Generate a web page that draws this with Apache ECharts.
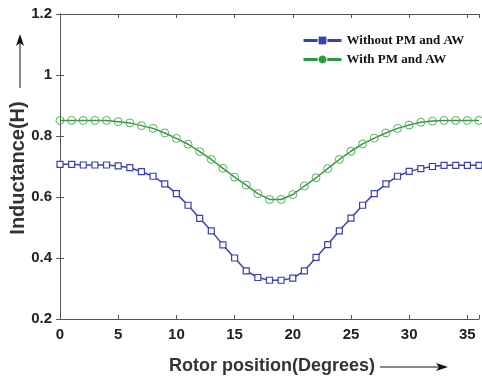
<!DOCTYPE html>
<html><head><meta charset="utf-8">
<script src="https://cdn.jsdelivr.net/npm/echarts@6/dist/echarts.min.js"></script>
<style>html,body{margin:0;padding:0;background:#fff}#c{width:482px;height:380px}</style>
</head><body><div id="c"></div>
<script>
const positions = [0,1,2,3,4,5,6,7,8,9,10,11,12,13,14,15,16,17,18,19,20,21,22,23,24,25,26,27,28,29,30,31,32,33,34,35,36];
const withoutPM = [0.707,0.707,0.705,0.705,0.705,0.702,0.696,0.683,0.668,0.643,0.611,0.573,0.530,0.489,0.443,0.400,0.358,0.336,0.327,0.327,0.334,0.358,0.402,0.444,0.489,0.531,0.573,0.611,0.643,0.668,0.684,0.693,0.700,0.704,0.704,0.704,0.704];
const withPM = [0.851,0.851,0.851,0.851,0.851,0.847,0.843,0.834,0.825,0.810,0.792,0.773,0.749,0.723,0.694,0.665,0.639,0.611,0.592,0.592,0.608,0.636,0.663,0.693,0.723,0.750,0.774,0.793,0.810,0.825,0.836,0.845,0.849,0.851,0.851,0.851,0.851];
const seriesNames = ['Without PM and AW','With PM and AW'];
const xTicks = [0,5,10,15,20,25,30,35];
const yTicks = [0.2,0.4,0.6,0.8,1,1.2];

const blue = '#3a40ae', green = '#2f9a3c';
const chart = echarts.init(document.getElementById('c'));
const axisCommon = {
  axisLine:{show:true,lineStyle:{color:'#555',width:1}},
  axisTick:{show:true,inside:true,length:4,lineStyle:{color:'#555'}},
  splitLine:{show:false}
};
chart.setOption({
  animation:false,
  grid:{left:60,top:14,width:424,height:305,containLabel:false},
  legend:{
    top:34,left:302,padding:0,orient:'vertical',itemGap:6,itemWidth:38,itemHeight:11,
    textStyle:{fontFamily:'Liberation Serif',fontWeight:'bold',fontSize:13,color:'#111'},
    data:[
      {name:seriesNames[0],itemStyle:{color:blue,borderColor:'#fff',borderWidth:1},lineStyle:{width:3,color:blue}},
      {name:seriesNames[1],itemStyle:{color:green,borderColor:'#fff',borderWidth:1},lineStyle:{width:3,color:green}}
    ]
  },
  xAxis:[
    Object.assign({type:'value',min:0,max:36,interval:5,position:'bottom',
      axisLabel:{fontFamily:'Liberation Sans',fontWeight:'bold',fontSize:15,color:'#222',margin:8,
        formatter:v=>xTicks.includes(v)?String(v):''}}, axisCommon),
    Object.assign({type:'value',min:0,max:36,interval:5,position:'top',axisLabel:{show:false}}, axisCommon)
  ],
  yAxis:[
    Object.assign({type:'value',min:0.2,max:1.2,interval:0.2,position:'left',
      axisLabel:{fontFamily:'Liberation Sans',fontWeight:'bold',fontSize:15,color:'#222',margin:8,
        formatter:v=>{const t=yTicks.find(y=>Math.abs(y-v)<1e-6);return t===undefined?'':String(t);}}}, axisCommon),
    Object.assign({type:'value',min:0.2,max:1.2,interval:0.2,position:'right',axisLabel:{show:false}}, axisCommon)
  ],
  series:[
    {name:seriesNames[0],type:'line',data:positions.map((x,i)=>[x,withoutPM[i]]),
      symbol:'rect',symbolSize:6,showAllSymbol:true,
      lineStyle:{color:blue,width:1.5},itemStyle:{color:'#fff',borderColor:blue,borderWidth:1.2}},
    {name:seriesNames[1],type:'line',data:positions.map((x,i)=>[x,withPM[i]]),
      symbol:'circle',symbolSize:8,showAllSymbol:true,
      lineStyle:{color:green,width:1.5},itemStyle:{color:'rgba(255,255,255,0)',borderColor:'#5aa860',borderWidth:1}}
  ],
  graphic:[
    {type:'text',x:272,y:366,style:{text:'Rotor position(Degrees)',font:'bold 18px "Liberation Sans"',fill:'#333',textAlign:'center',textVerticalAlign:'middle'}},
    {type:'line',shape:{x1:380,y1:367,x2:445,y2:367},style:{stroke:'#111',lineWidth:1}},
    {type:'polygon',shape:{points:[[448,367],[436,363],[439,367],[436,371]]},style:{fill:'#111'}},
    {type:'text',rotation:Math.PI/2,x:18,y:168,style:{text:'Inductance(H)',font:'bold 20px "Liberation Sans"',fill:'#333',textAlign:'center',textVerticalAlign:'middle'}},
    {type:'line',shape:{x1:20,y1:88,x2:20,y2:38},style:{stroke:'#111',lineWidth:1}},
    {type:'polygon',shape:{points:[[20,34],[16,46],[20,43],[24,46]]},style:{fill:'#111'}}
  ]
});
</script></body></html>
